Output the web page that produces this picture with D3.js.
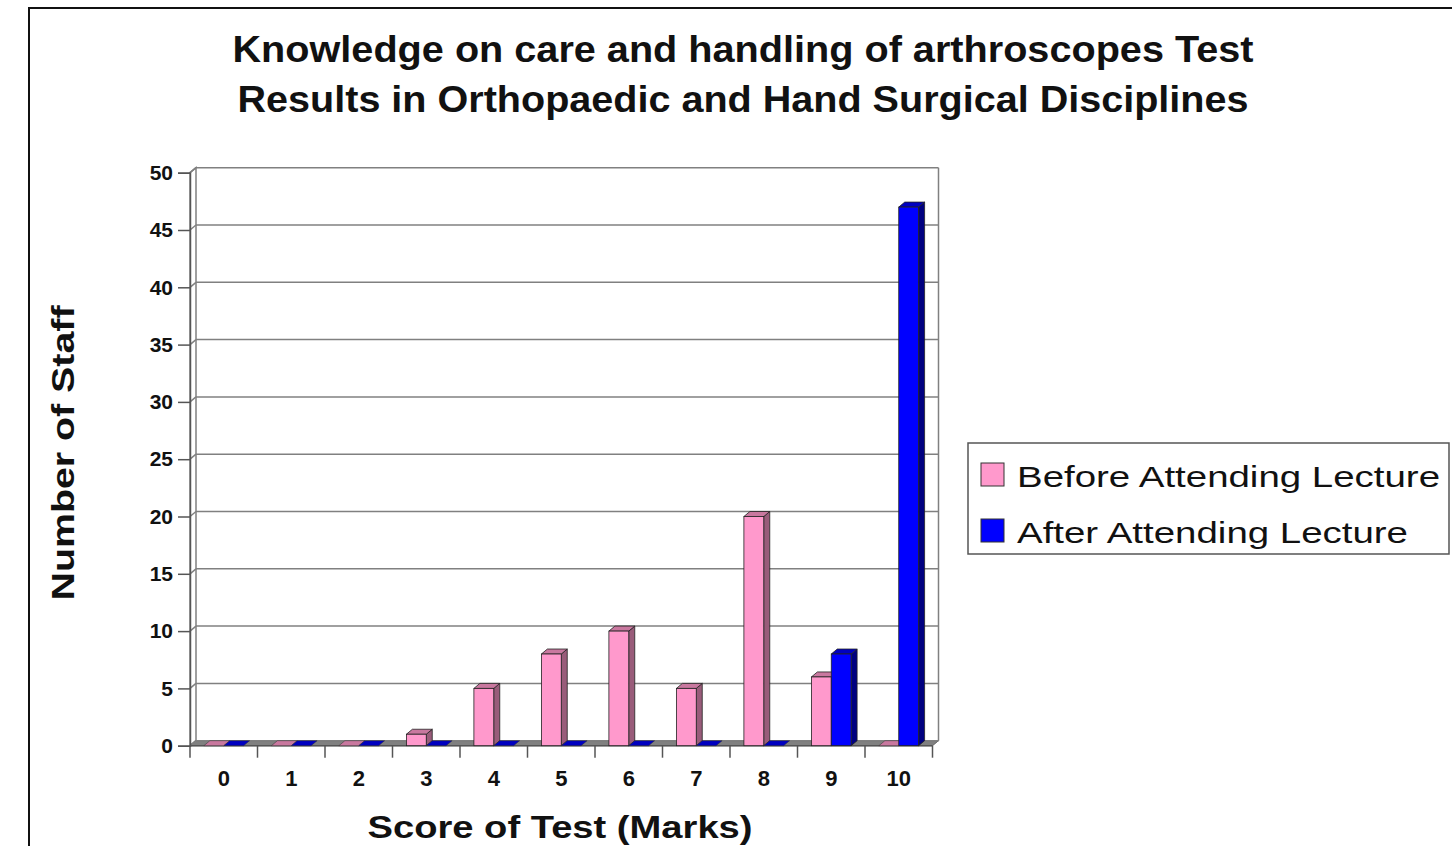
<!DOCTYPE html>
<html>
  <head>
    <style>
      body { margin: 0; background: #fff; }
      svg { display: block; font-family: "Liberation Sans", Arial, sans-serif; }
    </style>
  </head>
  <body>
    <svg class="chart" width="1452" height="846"></svg>

    <script src="https://cdn.jsdelivr.net/npm/d3@7"></script>
    <script>
      var scores = ["0", "1", "2", "3", "4", "5", "6", "7", "8", "9", "10"];
      var before = [0, 0, 0, 1, 5, 8, 10, 5, 20, 6, 0];
      var after = [0, 0, 0, 0, 0, 0, 0, 0, 0, 8, 47];
      var seriesNames = ["Before Attending Lecture", "After Attending Lecture"];
      var yTicks = [0, 5, 10, 15, 20, 25, 30, 35, 40, 45, 50];
      var titleLines = [
        "Knowledge on care and handling of arthroscopes Test",
        "Results in Orthopaedic and Hand Surgical Disciplines",
      ];

      var colors = [
        { front: "#ff99cc", side: "#995c7a", top: "#c9789f" },
        { front: "#0000ff", side: "#000080", top: "#0000c0" },
      ];

      // text in the original is a bit wider than our fonts, stretch to fit
      var titleWidths = [1021, 1011];
      var legendWidths = [423, 391];

      // depth of the 3d look
      var dx = 6,
        dy = 5;

      var svg = d3.select(".chart");

      // outer frame
      svg
        .append("rect")
        .attr("x", 29)
        .attr("y", 8)
        .attr("width", 1440)
        .attr("height", 860)
        .attr("fill", "none")
        .attr("stroke", "#111")
        .attr("stroke-width", 2);

      var x = d3.scaleBand().domain(scores).range([190, 932.5]);
      var xs = d3
        .scaleBand()
        .domain(d3.range(seriesNames.length))
        .range([0, x.bandwidth()])
        .paddingOuter(0.7);
      var y = d3.scaleLinear().domain([0, 50]).range([745.7, 172.7]);

      var x0 = x.range()[0],
        x1 = x.range()[1],
        yb = y(0),
        yt = y(50);

      var g = svg.append("g");

      // left wall
      g.append("path")
        .attr(
          "d",
          "M" + x0 + "," + yb + "L" + x0 + "," + yt +
            "L" + (x0 + dx) + "," + (yt - dy) + "L" + (x0 + dx) + "," + (yb - dy) + "Z"
        )
        .attr("fill", "#fff")
        .attr("stroke", "#808080")
        .attr("stroke-width", 1.5);

      // floor
      g.append("path")
        .attr(
          "d",
          "M" + x0 + "," + yb + "L" + x1 + "," + yb +
            "L" + (x1 + dx) + "," + (yb - dy) + "L" + (x0 + dx) + "," + (yb - dy) + "Z"
        )
        .attr("fill", "#808080")
        .attr("stroke", "#666")
        .attr("stroke-width", 1);

      // back wall right edge
      g.append("line")
        .attr("x1", x1 + dx)
        .attr("x2", x1 + dx)
        .attr("y1", yb - dy)
        .attr("y2", yt - dy)
        .attr("stroke", "#808080")
        .attr("stroke-width", 1.5);

      // gridlines on back wall and left wall
      var grid = g.selectAll(".grid").data(yTicks).enter().append("g");
      grid
        .append("line")
        .attr("x1", x0 + dx)
        .attr("x2", x1 + dx)
        .attr("y1", function (d) { return y(d) - dy; })
        .attr("y2", function (d) { return y(d) - dy; })
        .attr("stroke", "#808080")
        .attr("stroke-width", 1.5);
      grid
        .append("line")
        .attr("x1", x0)
        .attr("x2", x0 + dx)
        .attr("y1", function (d) { return y(d); })
        .attr("y2", function (d) { return y(d) - dy; })
        .attr("stroke", "#808080")
        .attr("stroke-width", 1.5);

      // y axis
      var yAxis = d3.axisLeft(y).tickValues(yTicks).tickSize(12).tickPadding(5);
      var ya = svg
        .append("g")
        .attr("transform", "translate(" + x0 + ",0)")
        .call(yAxis);
      ya.select(".domain").attr("stroke", "#555").attr("stroke-width", 1.5);
      ya.selectAll(".tick line").attr("stroke", "#555").attr("stroke-width", 1.5);
      ya.selectAll("text")
        .attr("font-size", 21)
        .attr("font-weight", "bold")
        .attr("fill", "#111")
        .attr("font-family", "Liberation Sans, Arial, sans-serif");

      // x axis: ticks sit on category boundaries
      var xa = svg.append("g").attr("transform", "translate(0," + yb + ")");
      xa.append("line")
        .attr("x1", x0)
        .attr("x2", x1)
        .attr("stroke", "#555")
        .attr("stroke-width", 1.5);
      xa.selectAll(".xt")
        .data(scores.concat(["end"]))
        .enter()
        .append("line")
        .attr("x1", function (d, i) { return x0 + i * x.step(); })
        .attr("x2", function (d, i) { return x0 + i * x.step(); })
        .attr("y1", 0)
        .attr("y2", 12)
        .attr("stroke", "#555")
        .attr("stroke-width", 1.5);
      xa.selectAll(".xl")
        .data(scores)
        .enter()
        .append("text")
        .attr("x", function (d) { return x(d) + x.bandwidth() / 2; })
        .attr("y", 40)
        .attr("text-anchor", "middle")
        .attr("font-size", 22)
        .attr("font-weight", "bold")
        .attr("fill", "#111")
        .text(function (d) { return d; });

      // bars
      var rows = [];
      scores.forEach(function (s, i) {
        [before, after].forEach(function (arr, k) {
          rows.push({ score: s, k: k, v: arr[i] });
        });
      });

      var bars = svg
        .append("g")
        .selectAll("g")
        .data(rows)
        .enter()
        .append("g");

      function bx(d) { return x(d.score) + xs(d.k); }

      bars.each(function (d) {
        var b = d3.select(this);
        var left = bx(d),
          w = xs.bandwidth(),
          top = y(d.v),
          c = colors[d.k];
        if (d.v === 0) {
          b.append("path")
            .attr(
              "d",
              "M" + left + "," + yb + "L" + (left + w) + "," + yb +
                "L" + (left + w + dx) + "," + (yb - dy) + "L" + (left + dx) + "," + (yb - dy) + "Z"
            )
            .attr("fill", c.top)
            .attr("stroke", "#333")
            .attr("stroke-width", 0.5);
          return;
        }
        // side
        b.append("path")
          .attr(
            "d",
            "M" + (left + w) + "," + yb + "L" + (left + w) + "," + top +
              "L" + (left + w + dx) + "," + (top - dy) + "L" + (left + w + dx) + "," + (yb - dy) + "Z"
          )
          .attr("fill", c.side)
          .attr("stroke", "#222")
          .attr("stroke-width", 0.8);
        // top
        b.append("path")
          .attr(
            "d",
            "M" + left + "," + top + "L" + (left + w) + "," + top +
              "L" + (left + w + dx) + "," + (top - dy) + "L" + (left + dx) + "," + (top - dy) + "Z"
          )
          .attr("fill", c.top)
          .attr("stroke", "#222")
          .attr("stroke-width", 0.8);
        // front
        b.append("rect")
          .attr("x", left)
          .attr("y", top)
          .attr("width", w)
          .attr("height", yb - top)
          .attr("fill", c.front)
          .attr("stroke", "#222")
          .attr("stroke-width", 0.8);
      });

      // title
      svg
        .append("g")
        .selectAll("text")
        .data(titleLines)
        .enter()
        .append("text")
        .attr("x", 743)
        .attr("y", function (d, i) { return 62 + i * 50; })
        .attr("text-anchor", "middle")
        .attr("font-size", 36)
        .attr("font-weight", "bold")
        .attr("fill", "#111")
        .attr("textLength", function (d, i) { return titleWidths[i]; })
        .attr("lengthAdjust", "spacingAndGlyphs")
        .text(function (d) { return d; });

      // axis titles
      svg
        .append("text")
        .attr("transform", "translate(74,453) rotate(-90)")
        .attr("text-anchor", "middle")
        .attr("font-size", 32)
        .attr("font-weight", "bold")
        .attr("fill", "#111")
        .attr("textLength", 295)
        .attr("lengthAdjust", "spacingAndGlyphs")
        .text("Number of Staff");

      svg
        .append("text")
        .attr("x", 560)
        .attr("y", 838)
        .attr("text-anchor", "middle")
        .attr("font-size", 31)
        .attr("font-weight", "bold")
        .attr("fill", "#111")
        .attr("textLength", 385)
        .attr("lengthAdjust", "spacingAndGlyphs")
        .text("Score of Test (Marks)");

      // legend
      var legend = svg.append("g").attr("transform", "translate(968,443)");
      legend
        .append("rect")
        .attr("width", 481)
        .attr("height", 111)
        .attr("fill", "#fff")
        .attr("stroke", "#555")
        .attr("stroke-width", 1.5);
      var li = legend
        .selectAll(".li")
        .data(seriesNames)
        .enter()
        .append("g")
        .attr("transform", function (d, i) { return "translate(0," + (20 + i * 56) + ")"; });
      li.append("rect")
        .attr("x", 13)
        .attr("width", 23)
        .attr("height", 23)
        .attr("fill", function (d, i) { return colors[i].front; })
        .attr("stroke", "#333")
        .attr("stroke-width", 1);
      li.append("text")
        .attr("x", 49)
        .attr("y", 24)
        .attr("font-size", 30)
        .attr("fill", "#111")
        .attr("textLength", function (d, i) { return legendWidths[i]; })
        .attr("lengthAdjust", "spacingAndGlyphs")
        .text(function (d) { return d; });
    </script>
  </body>
</html>
